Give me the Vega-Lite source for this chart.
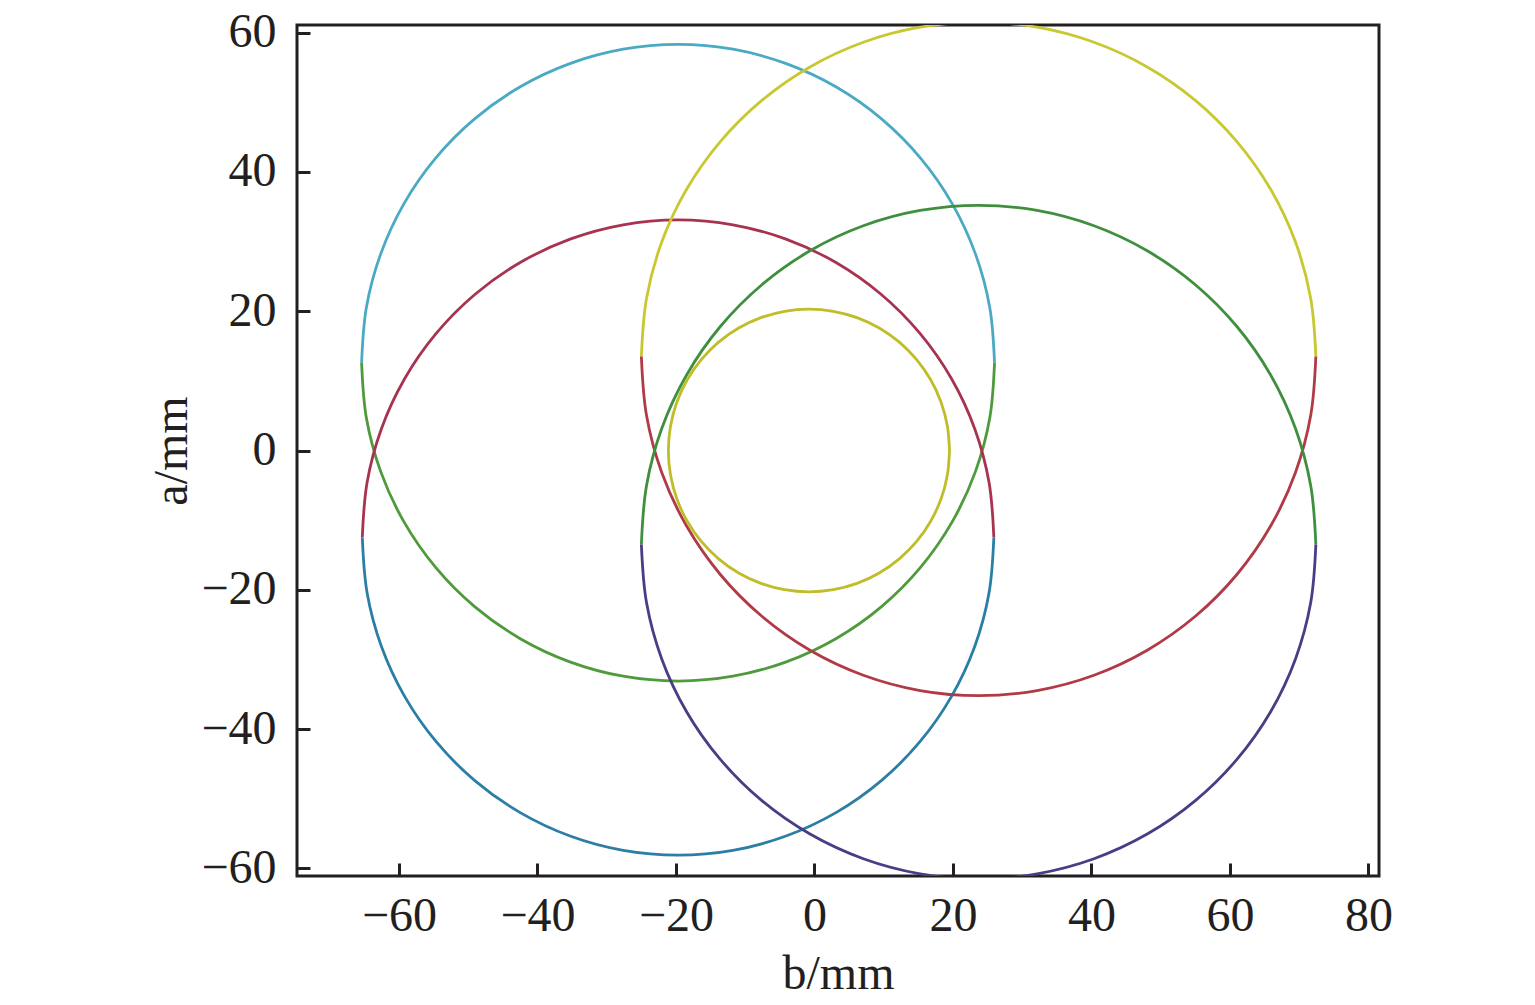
{
  "$schema": "https://vega.github.io/schema/vega-lite/v6.json",
  "width": 1082,
  "height": 851,
  "autosize": "none",
  "padding": {"left": 297, "top": 25, "right": 156, "bottom": 129},
  "background": "white",
  "config": {
    "view": {"stroke": "#231f20", "strokeWidth": 3},
    "font": "Liberation Serif"
  },
  "data": {"values": [
    {"s":"A1","t":0,"b":26.0,"a":12.6},{"s":"A1","t":10,"b":25.31,"a":20.53},{"s":"A1","t":20,"b":23.24,"a":28.23},{"s":"A1","t":30,"b":19.88,"a":35.45},{"s":"A1","t":40,"b":15.31,"a":41.98},{"s":"A1","t":50,"b":9.68,"a":47.61},{"s":"A1","t":60,"b":3.15,"a":52.18},{"s":"A1","t":70,"b":-4.07,"a":55.54},{"s":"A1","t":80,"b":-11.77,"a":57.61},{"s":"A1","t":90,"b":-19.7,"a":58.3},{"s":"A1","t":100,"b":-27.63,"a":57.61},{"s":"A1","t":110,"b":-35.33,"a":55.54},{"s":"A1","t":120,"b":-42.55,"a":52.18},{"s":"A1","t":130,"b":-49.08,"a":47.61},{"s":"A1","t":140,"b":-54.71,"a":41.98},{"s":"A1","t":150,"b":-59.28,"a":35.45},{"s":"A1","t":160,"b":-62.64,"a":28.23},{"s":"A1","t":170,"b":-64.71,"a":20.53},{"s":"A1","t":180,"b":-65.4,"a":12.6},
    {"s":"A2","t":180,"b":-65.4,"a":12.6},{"s":"A2","t":190,"b":-64.71,"a":4.67},{"s":"A2","t":200,"b":-62.64,"a":-3.03},{"s":"A2","t":210,"b":-59.28,"a":-10.25},{"s":"A2","t":220,"b":-54.71,"a":-16.78},{"s":"A2","t":230,"b":-49.08,"a":-22.41},{"s":"A2","t":240,"b":-42.55,"a":-26.98},{"s":"A2","t":250,"b":-35.33,"a":-30.34},{"s":"A2","t":260,"b":-27.63,"a":-32.41},{"s":"A2","t":270,"b":-19.7,"a":-33.1},{"s":"A2","t":280,"b":-11.77,"a":-32.41},{"s":"A2","t":290,"b":-4.07,"a":-30.34},{"s":"A2","t":300,"b":3.15,"a":-26.98},{"s":"A2","t":310,"b":9.68,"a":-22.41},{"s":"A2","t":320,"b":15.31,"a":-16.78},{"s":"A2","t":330,"b":19.88,"a":-10.25},{"s":"A2","t":340,"b":23.24,"a":-3.03},{"s":"A2","t":350,"b":25.31,"a":4.67},{"s":"A2","t":360,"b":26.0,"a":12.6},
    {"s":"B1","t":0,"b":25.9,"a":-12.5},{"s":"B1","t":10,"b":25.21,"a":-4.58},{"s":"B1","t":20,"b":23.15,"a":3.10},{"s":"B1","t":30,"b":19.79,"a":10.30},{"s":"B1","t":40,"b":15.23,"a":16.81},{"s":"B1","t":50,"b":9.61,"a":22.43},{"s":"B1","t":60,"b":3.10,"a":26.99},{"s":"B1","t":70,"b":-4.11,"a":30.35},{"s":"B1","t":80,"b":-11.78,"a":32.41},{"s":"B1","t":90,"b":-19.7,"a":33.1},{"s":"B1","t":100,"b":-27.62,"a":32.41},{"s":"B1","t":110,"b":-35.30,"a":30.35},{"s":"B1","t":120,"b":-42.5,"a":26.99},{"s":"B1","t":130,"b":-49.01,"a":22.43},{"s":"B1","t":140,"b":-54.63,"a":16.81},{"s":"B1","t":150,"b":-59.19,"a":10.30},{"s":"B1","t":160,"b":-62.55,"a":3.10},{"s":"B1","t":170,"b":-64.61,"a":-4.58},{"s":"B1","t":180,"b":-65.3,"a":-12.5},
    {"s":"B2","t":180,"b":-65.3,"a":-12.5},{"s":"B2","t":190,"b":-64.61,"a":-20.42},{"s":"B2","t":200,"b":-62.55,"a":-28.10},{"s":"B2","t":210,"b":-59.19,"a":-35.30},{"s":"B2","t":220,"b":-54.63,"a":-41.81},{"s":"B2","t":230,"b":-49.01,"a":-47.43},{"s":"B2","t":240,"b":-42.5,"a":-51.99},{"s":"B2","t":250,"b":-35.30,"a":-55.35},{"s":"B2","t":260,"b":-27.62,"a":-57.41},{"s":"B2","t":270,"b":-19.7,"a":-58.1},{"s":"B2","t":280,"b":-11.78,"a":-57.41},{"s":"B2","t":290,"b":-4.11,"a":-55.35},{"s":"B2","t":300,"b":3.10,"a":-51.99},{"s":"B2","t":310,"b":9.61,"a":-47.43},{"s":"B2","t":320,"b":15.23,"a":-41.81},{"s":"B2","t":330,"b":19.79,"a":-35.30},{"s":"B2","t":340,"b":23.15,"a":-28.10},{"s":"B2","t":350,"b":25.21,"a":-20.42},{"s":"B2","t":360,"b":25.9,"a":-12.5},
    {"s":"C1","t":0,"b":72.4,"a":13.5},{"s":"C1","t":10,"b":71.66,"a":21.83},{"s":"C1","t":20,"b":69.46,"a":29.92},{"s":"C1","t":30,"b":65.87,"a":37.5},{"s":"C1","t":40,"b":61.0,"a":44.35},{"s":"C1","t":50,"b":55.0,"a":50.27},{"s":"C1","t":60,"b":48.05,"a":55.07},{"s":"C1","t":70,"b":40.36,"a":58.61},{"s":"C1","t":80,"b":32.15,"a":60.77},{"s":"C1","t":90,"b":23.7,"a":61.5},{"s":"C1","t":100,"b":15.25,"a":60.77},{"s":"C1","t":110,"b":7.05,"a":58.61},{"s":"C1","t":120,"b":-0.65,"a":55.07},{"s":"C1","t":130,"b":-7.60,"a":50.27},{"s":"C1","t":140,"b":-13.60,"a":44.35},{"s":"C1","t":150,"b":-18.47,"a":37.5},{"s":"C1","t":160,"b":-22.06,"a":29.92},{"s":"C1","t":170,"b":-24.26,"a":21.83},{"s":"C1","t":180,"b":-25.0,"a":13.5},
    {"s":"C2","t":180,"b":-25.0,"a":13.5},{"s":"C2","t":190,"b":-24.26,"a":5.05},{"s":"C2","t":200,"b":-22.06,"a":-3.16},{"s":"C2","t":210,"b":-18.47,"a":-10.85},{"s":"C2","t":220,"b":-13.60,"a":-17.80},{"s":"C2","t":230,"b":-7.60,"a":-23.80},{"s":"C2","t":240,"b":-0.65,"a":-28.67},{"s":"C2","t":250,"b":7.05,"a":-32.26},{"s":"C2","t":260,"b":15.25,"a":-34.46},{"s":"C2","t":270,"b":23.7,"a":-35.2},{"s":"C2","t":280,"b":32.15,"a":-34.46},{"s":"C2","t":290,"b":40.36,"a":-32.26},{"s":"C2","t":300,"b":48.05,"a":-28.67},{"s":"C2","t":310,"b":55.0,"a":-23.80},{"s":"C2","t":320,"b":61.0,"a":-17.80},{"s":"C2","t":330,"b":65.87,"a":-10.85},{"s":"C2","t":340,"b":69.46,"a":-3.16},{"s":"C2","t":350,"b":71.66,"a":5.05},{"s":"C2","t":360,"b":72.4,"a":13.5},
    {"s":"D1","t":0,"b":72.4,"a":-13.5},{"s":"D1","t":10,"b":71.66,"a":-5.05},{"s":"D1","t":20,"b":69.46,"a":3.16},{"s":"D1","t":30,"b":65.87,"a":10.85},{"s":"D1","t":40,"b":61.0,"a":17.80},{"s":"D1","t":50,"b":55.0,"a":23.80},{"s":"D1","t":60,"b":48.05,"a":28.67},{"s":"D1","t":70,"b":40.36,"a":32.26},{"s":"D1","t":80,"b":32.15,"a":34.46},{"s":"D1","t":90,"b":23.7,"a":35.2},{"s":"D1","t":100,"b":15.25,"a":34.46},{"s":"D1","t":110,"b":7.05,"a":32.26},{"s":"D1","t":120,"b":-0.65,"a":28.67},{"s":"D1","t":130,"b":-7.60,"a":23.80},{"s":"D1","t":140,"b":-13.60,"a":17.80},{"s":"D1","t":150,"b":-18.47,"a":10.85},{"s":"D1","t":160,"b":-22.06,"a":3.16},{"s":"D1","t":170,"b":-24.26,"a":-5.05},{"s":"D1","t":180,"b":-25.0,"a":-13.5},
    {"s":"D2","t":180,"b":-25.0,"a":-13.5},{"s":"D2","t":190,"b":-24.26,"a":-21.83},{"s":"D2","t":200,"b":-22.06,"a":-29.92},{"s":"D2","t":210,"b":-18.47,"a":-37.5},{"s":"D2","t":220,"b":-13.60,"a":-44.35},{"s":"D2","t":230,"b":-7.60,"a":-50.27},{"s":"D2","t":240,"b":-0.65,"a":-55.07},{"s":"D2","t":250,"b":7.05,"a":-58.61},{"s":"D2","t":260,"b":15.25,"a":-60.77},{"s":"D2","t":270,"b":23.7,"a":-61.5},{"s":"D2","t":280,"b":32.15,"a":-60.77},{"s":"D2","t":290,"b":40.36,"a":-58.61},{"s":"D2","t":300,"b":48.05,"a":-55.07},{"s":"D2","t":310,"b":55.0,"a":-50.27},{"s":"D2","t":320,"b":61.0,"a":-44.35},{"s":"D2","t":330,"b":65.87,"a":-37.5},{"s":"D2","t":340,"b":69.46,"a":-29.92},{"s":"D2","t":350,"b":71.66,"a":-21.83},{"s":"D2","t":360,"b":72.4,"a":-13.5},
    {"s":"E","t":0,"b":19.5,"a":0},{"s":"E","t":10,"b":19.19,"a":3.52},{"s":"E","t":20,"b":18.28,"a":6.94},{"s":"E","t":30,"b":16.78,"a":10.15},{"s":"E","t":40,"b":14.75,"a":13.05},{"s":"E","t":50,"b":12.25,"a":15.55},{"s":"E","t":60,"b":9.35,"a":17.58},{"s":"E","t":70,"b":6.14,"a":19.08},{"s":"E","t":80,"b":2.72,"a":19.99},{"s":"E","t":90,"b":-0.8,"a":20.3},{"s":"E","t":100,"b":-4.32,"a":19.99},{"s":"E","t":110,"b":-7.74,"a":19.08},{"s":"E","t":120,"b":-10.95,"a":17.58},{"s":"E","t":130,"b":-13.85,"a":15.55},{"s":"E","t":140,"b":-16.35,"a":13.05},{"s":"E","t":150,"b":-18.38,"a":10.15},{"s":"E","t":160,"b":-19.88,"a":6.94},{"s":"E","t":170,"b":-20.79,"a":3.52},{"s":"E","t":180,"b":-21.1,"a":0},{"s":"E","t":190,"b":-20.79,"a":-3.52},{"s":"E","t":200,"b":-19.88,"a":-6.94},{"s":"E","t":210,"b":-18.38,"a":-10.15},{"s":"E","t":220,"b":-16.35,"a":-13.05},{"s":"E","t":230,"b":-13.85,"a":-15.55},{"s":"E","t":240,"b":-10.95,"a":-17.58},{"s":"E","t":250,"b":-7.74,"a":-19.08},{"s":"E","t":260,"b":-4.32,"a":-19.99},{"s":"E","t":270,"b":-0.8,"a":-20.3},{"s":"E","t":280,"b":2.72,"a":-19.99},{"s":"E","t":290,"b":6.14,"a":-19.08},{"s":"E","t":300,"b":9.35,"a":-17.58},{"s":"E","t":310,"b":12.25,"a":-15.55},{"s":"E","t":320,"b":14.75,"a":-13.05},{"s":"E","t":330,"b":16.78,"a":-10.15},{"s":"E","t":340,"b":18.28,"a":-6.94},{"s":"E","t":350,"b":19.19,"a":-3.52},{"s":"E","t":360,"b":19.5,"a":0}
  ]},
  "mark": {"type": "line", "interpolate": "catmull-rom", "strokeWidth": 2.8, "clip": true},
  "encoding": {
    "x": {
      "field": "b", "type": "quantitative",
      "scale": {"domain": [-74.73, 81.52], "nice": false, "zero": false},
      "axis": {
        "title": "b/mm", "values": [-60, -40, -20, 0, 20, 40, 60, 80],
        "grid": false, "domain": false,
        "tickSize": -13, "tickWidth": 3, "tickColor": "#231f20",
        "labelFont": "Liberation Serif", "labelFontSize": 48, "labelColor": "#231f20", "labelPadding": 29,
        "titleFont": "Liberation Serif", "titleFontSize": 48, "titleFontWeight": "normal", "titleColor": "#231f20", "titlePadding": 10
      }
    },
    "y": {
      "field": "a", "type": "quantitative",
      "scale": {"domain": [-61.09, 61.09], "nice": false, "zero": false},
      "axis": {
        "title": "a/mm", "values": [-60, -40, -20, 0, 20, 40, 60],
        "grid": false, "domain": false,
        "tickSize": -13, "tickWidth": 3, "tickColor": "#231f20",
        "labelFont": "Liberation Serif", "labelFontSize": 48, "labelColor": "#231f20", "labelPadding": 34,
        "titleFont": "Liberation Serif", "titleFontSize": 48, "titleFontWeight": "normal", "titleColor": "#231f20", "titlePadding": 4
      }
    },
    "color": {
      "field": "s", "type": "nominal", "legend": null,
      "scale": {
        "domain": ["A1", "A2", "B1", "B2", "C1", "C2", "D1", "D2", "E"],
        "range": ["#4aaac4", "#4f9a3a", "#a83350", "#2b7ea4", "#c8c830", "#b03a45", "#3f8f3f", "#4a3c85", "#bfbd28"]
      }
    },
    "order": {"field": "t", "type": "quantitative"}
  }
}
